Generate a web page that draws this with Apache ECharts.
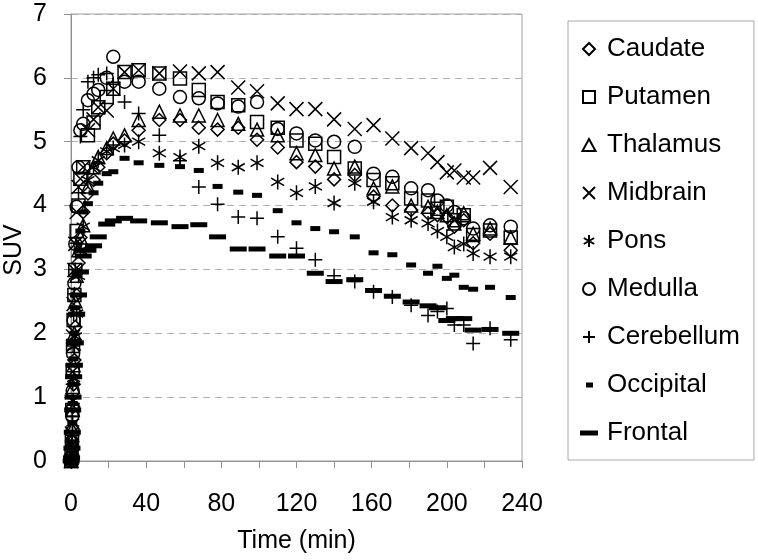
<!DOCTYPE html>
<html>
<head>
<meta charset="utf-8">
<script src="https://cdn.jsdelivr.net/npm/echarts@6/dist/echarts.min.js"></script>
<style>html,body{margin:0;padding:0;background:#fff}#c{width:758px;height:560px}</style>
</head>
<body>
<div id="c"></div>
<script>
const times = [0.1, 0.3, 0.5, 0.7, 0.9, 1.1, 1.4, 1.8, 2.3, 3, 4, 5, 6.5, 9, 12, 14.5, 19, 22.5, 28.5, 36, 47, 58, 68, 78, 89, 99, 110, 120, 130, 140, 151, 161, 171, 181, 190, 195, 200, 204, 209, 214, 223, 234];
const caudate = [0, 0, 0.1, 0.3, 0.5, 0.85, 1.2, 1.58, 2.1, 2.6, 3.1, 3.5, 3.9, 4.19, 4.4, 4.6, 4.82, 4.97, 5.02, 5.18, 5.34, 5.34, 5.22, 5.19, 5.22, 5.03, 4.91, 4.68, 4.61, 4.41, 4.48, 4.14, 4.0, 3.93, 3.88, 3.85, 3.82, 3.67, 3.77, 3.41, 3.56, 3.3];
const putamen = [0, 0.1, 0.35, 0.8, 1.42, 1.8, 2.21, 2.6, 2.99, 3.6, 4.0, 4.42, 4.6, 5.1, 5.3, 5.54, 5.7, 5.83, 6.09, 6.12, 6.07, 5.99, 5.81, 5.62, 5.57, 5.31, 5.22, 5.02, 4.97, 4.76, 4.58, 4.40, 4.35, 4.11, 4.08, 3.95, 3.98, 3.77, 3.85, 3.54, 3.61, 3.5];
const thalamus = [0, 0.05, 0.2, 0.5, 0.8, 1.16, 1.5, 2.0, 2.5, 2.9, 3.3, 3.5, 3.69, 4.3, 4.6, 4.76, 4.9, 5.05, 5.10, 5.34, 5.47, 5.41, 5.41, 5.34, 5.28, 5.19, 5.10, 4.82, 4.79, 4.58, 4.61, 4.27, 4.30, 4.0, 3.98, 3.9, 3.85, 3.72, 3.88, 3.56, 3.64, 3.5];
const midbrain = [0, 0.1, 0.43, 0.95, 1.4, 1.95, 2.46, 2.99, 3.4, 3.9, 4.29, 4.42, 4.6, 5.18, 5.35, 5.54, 5.49, 5.83, 6.09, 6.12, 6.07, 6.1, 6.07, 6.09, 5.85, 5.79, 5.60, 5.51, 5.51, 5.35, 5.20, 5.26, 5.05, 4.90, 4.82, 4.68, 4.52, 4.55, 4.44, 4.44, 4.59, 4.29];
const pons = [0, 0, 0.1, 0.3, 0.6, 0.95, 1.3, 1.79, 1.95, 2.31, 2.9, 3.3, 3.67, 4.4, 4.6, 4.71, 4.85, 4.9, 4.95, 5.0, 4.82, 4.76, 4.93, 4.67, 4.60, 4.67, 4.37, 4.20, 4.30, 4.04, 4.35, 4.06, 3.82, 3.77, 3.72, 3.6, 3.51, 3.35, 3.4, 3.25, 3.2, 3.2];
const medulla = [0, 0.05, 0.3, 0.7, 1.1, 1.68, 2.2, 2.78, 3.4, 3.98, 4.6, 5.18, 5.28, 5.65, 5.75, 5.81, 6.0, 6.33, 5.94, 5.94, 5.83, 5.70, 5.68, 5.60, 5.55, 5.62, 5.2, 5.13, 5.02, 5.0, 4.92, 4.50, 4.45, 4.27, 4.24, 4.08, 4.0, 3.9, 3.8, 3.64, 3.69, 3.67];
const cerebellum = [0, 0.05, 0.3, 0.7, 1.2, 1.8, 2.3, 2.62, 3.0, 3.41, 4.2, 5.08, 5.5, 5.94, 6.0, 6.05, 6.07, 5.9, 5.62, 5.44, 5.10, 4.7, 4.29, 4.02, 3.82, 3.80, 3.51, 3.33, 3.15, 2.90, 2.81, 2.65, 2.57, 2.44, 2.28, 2.34, 2.39, 2.13, 2.13, 1.84, 2.08, 1.9];
const occipital = [0, 0.05, 0.3, 0.6, 0.9, 1.2, 1.6, 2.0, 2.4, 2.9, 3.3, 3.6, 3.9, 4.03, 4.2, 4.35, 4.50, 4.53, 4.74, 4.67, 4.63, 4.61, 4.55, 4.30, 4.21, 4.16, 3.92, 3.73, 3.64, 3.59, 3.51, 3.26, 3.23, 3.07, 2.94, 3.05, 2.86, 2.91, 2.72, 2.69, 2.72, 2.56];
const frontal = [0, 0.05, 0.2, 0.45, 0.8, 1.0, 1.32, 1.5, 1.85, 2.3, 2.6, 2.96, 3.21, 3.3, 3.37, 3.51, 3.71, 3.76, 3.80, 3.76, 3.73, 3.67, 3.70, 3.51, 3.32, 3.32, 3.21, 3.21, 2.94, 2.81, 2.84, 2.67, 2.58, 2.49, 2.43, 2.4, 2.2, 2.23, 2.23, 2.05, 2.06, 2.0];
const seriesNames = ['Caudate', 'Putamen', 'Thalamus', 'Midbrain', 'Pons', 'Medulla', 'Cerebellum', 'Occipital', 'Frontal'];
const xTicks = [0, 40, 80, 120, 160, 200, 240];
const yTicks = [0, 1, 2, 3, 4, 5, 6, 7];
const xTitle = 'Time (min)';
const yTitle = 'SUV';

const FONT = "'Liberation Sans', Arial, Helvetica, sans-serif";
const SYM_X = 'path://M0,0L12,12M12,0L0,12';
const SYM_AST = 'path://M6,0L6,12M0.8,3L11.2,9M0.8,9L11.2,3';
const SYM_PLUS = 'path://M6,0L6,12M0,6L12,6';
const LEG_DIA = 'path://M6,0L12,6L6,12L0,6Z';
const LEG_SQ = 'path://M0,0L12,0L12,12L0,12Z';
const LEG_TRI = 'path://M6,0L12,11L0,11Z';
const LEG_OCC = 'path://M0,0h0.01v0.01zM26,12h-0.01v-0.01zM10,3.5h7v5h-7z';
const LEG_FRO = 'path://M0,0h0.01v0.01zM26,12h-0.01v-0.01zM4,3.5h18v5h-18z';

const values = [caudate, putamen, thalamus, midbrain, pons, medulla, cerebellum, occipital, frontal];
const symbols = ['diamond', 'rect', 'triangle', SYM_X, SYM_AST, 'circle', SYM_PLUS, 'rect', 'rect'];
const sizes = [13, 13, 13, 14, 15, 13, 14, [10, 5], [17, 5]];
const legendIcons = [LEG_DIA, LEG_SQ, LEG_TRI, SYM_X, SYM_AST, 'circle', SYM_PLUS, LEG_OCC, LEG_FRO];

const series = seriesNames.map((name, i) => {
  const filled = i >= 7;
  return {
    name: name,
    type: 'scatter',
    symbol: symbols[i],
    symbolSize: sizes[i],
    symbolKeepAspect: true,
    data: times.map((t, k) => [t, values[i][k]]),
    itemStyle: filled
      ? { color: '#000', borderWidth: 0, opacity: 1 }
      : { color: 'rgba(0,0,0,0)', borderColor: '#000', borderWidth: 1.5, opacity: 1 },
    emphasis: { disabled: true },
    z: 10 - i
  };
});

const chart = echarts.init(document.getElementById('c'), null, { renderer: 'canvas' });
chart.setOption({
  animation: false,
  backgroundColor: '#fff',
  textStyle: { fontFamily: FONT },
  grid: { left: 71, right: 236, top: 14, bottom: 99, containLabel: false, outerBoundsMode: 'none', show: true, borderColor: '#a0a0a0', borderWidth: 1, backgroundColor: 'transparent' },
  graphic: [{
    type: 'text', x: 14, y: 250, rotation: Math.PI / 2,
    style: { text: yTitle, fill: '#000', font: "25px 'Liberation Sans', Arial, sans-serif", textAlign: 'center', textVerticalAlign: 'middle' }
  }],
  xAxis: {
    type: 'value', min: xTicks[0], max: xTicks[xTicks.length - 1], interval: 40,
    name: xTitle, nameLocation: 'middle', nameGap: 68,
    nameTextStyle: { color: '#000', fontSize: 25, fontFamily: FONT },
    axisLine: { show: true, lineStyle: { color: '#909090', width: 1 } },
    axisTick: { show: true, length: 7, lineStyle: { color: '#909090' } },
    minorTick: { show: true, splitNumber: 2, length: 7, lineStyle: { color: '#909090' } },
    axisLabel: { color: '#000', fontSize: 25, fontFamily: FONT, margin: 31 },
    splitLine: { show: false }
  },
  yAxis: {
    type: 'value', min: yTicks[0], max: yTicks[yTicks.length - 1], interval: 1,
    axisLine: { show: true, lineStyle: { color: '#909090', width: 1 } },
    axisTick: { show: true, length: 7, lineStyle: { color: '#909090' } },
    axisLabel: { color: '#000', fontSize: 25, fontFamily: FONT, margin: 24 },
    splitLine: { show: true, lineStyle: { color: '#b0b0b0', width: 1, type: [7, 5] } }
  },
  legend: {
    orient: 'vertical', left: 568, top: 21,
    padding: [15, 14, 14, 8],
    itemWidth: 26, itemHeight: 12, itemGap: 22,
    symbolKeepAspect: true,
    borderColor: '#a8a8a8', borderWidth: 1, backgroundColor: '#fff',
    selectedMode: false,
    textStyle: { color: '#000', fontSize: 26, fontFamily: FONT, lineHeight: 26 },
    data: seriesNames.map((n, i) => ({ name: n, icon: legendIcons[i] }))
  },
  series: series
});
</script>
</body>
</html>
